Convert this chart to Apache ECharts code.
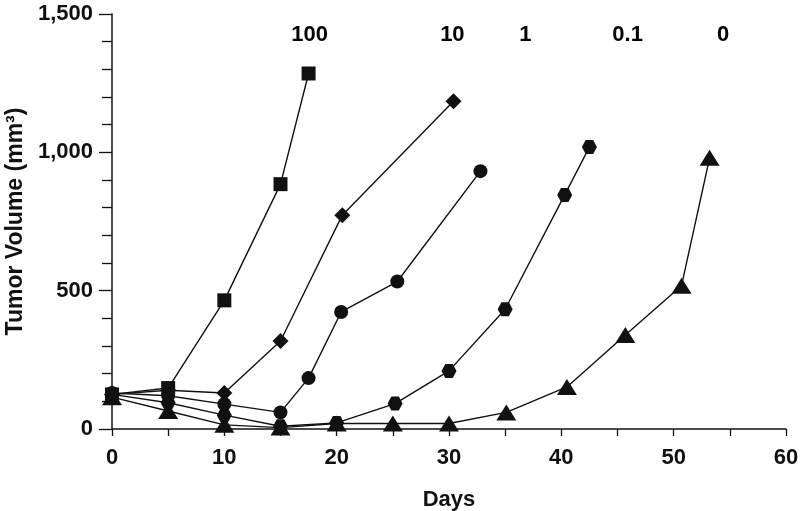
<!DOCTYPE html>
<html>
<head>
<meta charset="utf-8">
<script src="https://cdn.jsdelivr.net/npm/echarts@6/dist/echarts.min.js"></script>
<style>html,body{margin:0;padding:0;background:#fff}#c{width:800px;height:511px}</style>
</head>
<body>
<div id="c"></div>
<script>
// Dose groups
const doseLabels = ['100', '10', '1', '0.1', '0'];
const labelDays = [17.6, 30.3, 36.8, 45.9, 54.4];
const labelVals = [1424, 1424, 1424, 1424, 1424];

const days100 = [0, 5, 10, 15, 17.5];
const vals100 = [125, 148, 465, 885, 1285];
const days10 = [0, 5, 10, 15, 20.5, 30.4];
const vals10 = [125, 140, 130, 318, 773, 1185];
const days1 = [0, 5, 10, 15, 17.5, 20.4, 25.4, 32.8];
const vals1 = [130, 120, 90, 60, 184, 423, 533, 932];
const days01 = [0, 5, 10, 15, 20, 25.2, 30, 35, 40.3, 42.5];
const vals01 = [125, 95, 50, 10, 22, 92, 210, 433, 846, 1019];
const days0 = [0, 5, 10, 15, 20, 25, 30, 35.1, 40.5, 45.7, 50.7, 53.2];
const vals0 = [115, 65, 15, 5, 20, 20, 20, 60, 152, 340, 518, 980];

const xTicks = [0, 10, 20, 30, 40, 50, 60];
const yTicks = [0, 500, 1000, 1500];

const ink = '#111';
const font = '"Liberation Sans", Arial, Helvetica, sans-serif';
const hexagon = 'path://M0,5 L2.9,0 L8.7,0 L11.6,5 L8.7,10 L2.9,10 Z';

function pairs(d, v) { return d.map((x, i) => [x, v[i]]); }
function line(name, d, v, symbol, size) {
  return {
    name, type: 'line', data: pairs(d, v), symbol, symbolSize: size,
    showSymbol: true, animation: false,
    lineStyle: { color: ink, width: 1.4 },
    itemStyle: { color: ink, opacity: 1 },
    z: 3
  };
}

const chart = echarts.init(document.getElementById('c'), null, { renderer: 'canvas' });
chart.setOption({
  animation: false,
  backgroundColor: '#fff',
  grid: { left: 112, right: 14, top: 14, bottom: 82, containLabel: false, outerBoundsMode: 'none' },
  xAxis: {
    type: 'value', min: 0, max: 60, interval: 10,
    name: 'Days', nameLocation: 'middle', nameGap: 60,
    nameTextStyle: { fontFamily: font, fontWeight: 'bold', fontSize: 22, color: ink },
    axisLine: { lineStyle: { color: ink, width: 1.5 } },
    axisTick: { length: 7, lineStyle: { color: ink, width: 1.3 } },
    minorTick: { show: true, splitNumber: 2, length: 7, lineStyle: { color: ink, width: 1.3 } },
    axisLabel: { margin: 18, fontFamily: font, fontWeight: 'bold', fontSize: 22, color: ink,
      formatter: v => xTicks.includes(v) ? String(v) : '' },
    splitLine: { show: false }
  },
  yAxis: {
    type: 'value', min: 0, max: 1500, interval: 500,
    name: 'Tumor Volume (mm³)', nameLocation: 'middle', nameGap: 85,
    nameTextStyle: { fontFamily: font, fontWeight: 'bold', fontSize: 23, color: ink },
    axisLine: { show: true, lineStyle: { color: ink, width: 1.5 } },
    axisTick: { show: true, length: 13, lineStyle: { color: ink, width: 1.3 } },
    minorTick: { show: true, splitNumber: 5, length: 10, lineStyle: { color: ink, width: 1.3 } },
    axisLabel: { margin: 19, fontFamily: font, fontWeight: 'bold', fontSize: 22, color: ink,
      formatter: v => yTicks.includes(v) ? v.toLocaleString('en-US') : '' },
    splitLine: { show: false }
  },
  series: [
    line('0', days0, vals0, 'triangle', [20, 16]),
    line('0.1', days01, vals01, hexagon, [15, 14]),
    line('1', days1, vals1, 'circle', 14),
    line('10', days10, vals10, 'diamond', [16, 16]),
    line('100', days100, vals100, 'rect', 14),
    {
      type: 'custom', animation: false, silent: true,
      data: doseLabels.map((t, i) => [labelDays[i], labelVals[i], i]),
      renderItem: function (params, api) {
        const p = api.coord([api.value(0), api.value(1)]);
        return {
          type: 'text', x: p[0], y: p[1],
          style: { text: doseLabels[api.value(2)], fill: '#000', align: 'center', verticalAlign: 'middle',
            fontFamily: font, fontWeight: 'bold', fontSize: 22, opacity: 1 }
        };
      }
    }
  ]
});
</script>
</body>
</html>
